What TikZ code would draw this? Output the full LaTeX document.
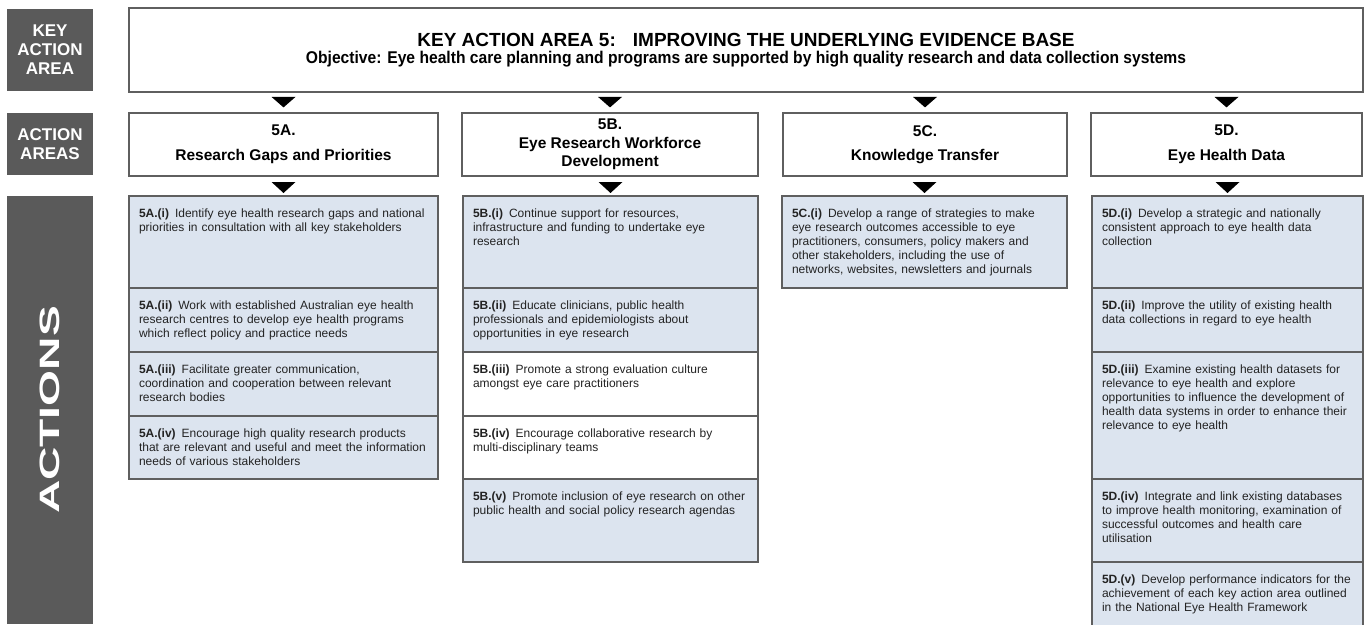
\documentclass[tikz,border=0pt]{standalone}
\usepackage{fontspec}
\setmainfont{Liberation Sans}
\newfontfamily\narrowsans[FakeStretch=0.92]{Liberation Sans}
\newfontfamily\widesans[FakeStretch=1.65]{Liberation Sans}
\usetikzlibrary{positioning}

\definecolor{labelgray}{RGB}{90,90,90}
\definecolor{actionblue}{RGB}{220,228,239}
\definecolor{boxline}{RGB}{95,95,95}
\definecolor{bodytext}{RGB}{35,35,35}

\tikzset{
	sidelabel/.style={fill=labelgray, text=white, minimum width=86pt, inner sep=0pt, align=center, font=\bfseries\fontsize{17}{19}\selectfont},
	areabox/.style={draw=boxline, line width=1.2pt, fill=white, minimum height=63pt, inner sep=0pt, align=center, font=\bfseries\fontsize{15.5}{18.5}\selectfont},
	actionbox/.style={draw=boxline, line width=1.2pt, fill=actionblue, outer sep=0pt, inner xsep=10pt, inner ysep=0pt, align=left, text=bodytext, text height=21pt, text depth=#1-21pt, font=\fontsize{12}{14}\selectfont},
	colA/.style={minimum width=309pt, text width=289pt},
	colB/.style={minimum width=295pt, text width=275pt},
	colC/.style={minimum width=285pt, text width=265pt},
	colD/.style={minimum width=271pt, text width=251pt},
	downtip/.style={fill=black}
}

\begin{document}
\begin{tikzpicture}[x=1pt,y=-1pt]
	\useasboundingbox (0,0) rectangle (1372,624);

	% labels on the left
	\node[sidelabel, minimum height=82pt] (lblkey) at (50,50) {KEY\\ACTION\\AREA};
	\node[sidelabel, minimum height=62pt] (lblarea) at (50,144) {ACTION\\AREAS};
	\node[sidelabel, rotate=90, minimum width=428pt, minimum height=86pt, font=\widesans\bfseries\fontsize{28}{28}\selectfont] (lblact) at (50,410) {ACTIONS};

	% key action area
	\node[draw=boxline, line width=1.2pt, minimum width=1234pt, minimum height=84pt, align=center, font=\bfseries\fontsize{19}{16.5}\selectfont] (title) at (746,50)
		{KEY ACTION AREA 5:\hspace{0.9em}IMPROVING THE UNDERLYING EVIDENCE BASE\\
		{\narrowsans\bfseries\fontsize{17}{16.5}\selectfont Objective: Eye health care planning and programs are supported by high quality research and data collection systems}};

	% action areas
	\node[areabox, minimum width=309pt] (hdA) at (283.5,144.5) {5A.\\[6pt]Research Gaps and Priorities};
	\node[areabox, minimum width=296pt] (hdB) at (610,144.5) {5B.\\Eye Research Workforce\\Development};
	\node[areabox, minimum width=284pt] (hdC) at (925,144.5) {5C.\\[6pt]Knowledge Transfer};
	\node[areabox, minimum width=271pt] (hdD) at (1226.5,144.5) {5D.\\[6pt]Eye Health Data};

	% actions 5A
	\node[actionbox=92pt, colA, anchor=north] (aA1) at (283.5,196) {\textbf{5A.(i)}\hspace{0.5em}Identify eye health research gaps and national\\priorities in consultation with all key stakeholders};
	\node[actionbox=64pt, colA, below=0pt of aA1] (aA2) {\textbf{5A.(ii)}\hspace{0.5em}Work with established Australian eye health\\research centres to develop eye health programs\\which reflect policy and practice needs};
	\node[actionbox=64pt, colA, below=0pt of aA2] (aA3) {\textbf{5A.(iii)}\hspace{0.5em}Facilitate greater communication,\\coordination and cooperation between relevant\\research bodies};
	\node[actionbox=63pt, colA, below=0pt of aA3] (aA4) {\textbf{5A.(iv)}\hspace{0.5em}Encourage high quality research products\\that are relevant and useful and meet the information\\needs of various stakeholders};

	% actions 5B
	\node[actionbox=92pt, colB, anchor=north] (aB1) at (610.5,196) {\textbf{5B.(i)}\hspace{0.5em}Continue support for resources,\\infrastructure and funding to undertake eye\\research};
	\node[actionbox=64pt, colB, below=0pt of aB1] (aB2) {\textbf{5B.(ii)}\hspace{0.5em}Educate clinicians, public health\\professionals and epidemiologists about\\opportunities in eye research};
	\node[actionbox=64pt, colB, fill=white, below=0pt of aB2] (aB3) {\textbf{5B.(iii)}\hspace{0.5em}Promote a strong evaluation culture\\amongst eye care practitioners};
	\node[actionbox=63pt, colB, fill=white, below=0pt of aB3] (aB4) {\textbf{5B.(iv)}\hspace{0.5em}Encourage collaborative research by\\multi-disciplinary teams};
	\node[actionbox=83pt, colB, below=0pt of aB4] (aB5) {\textbf{5B.(v)}\hspace{0.5em}Promote inclusion of eye research on other\\public health and social policy research agendas};

	% actions 5C
	\node[actionbox=92pt, colC, anchor=north] (aC1) at (924.5,196) {\textbf{5C.(i)}\hspace{0.5em}Develop a range of strategies to make\\eye research outcomes accessible to eye\\practitioners, consumers, policy makers and\\other stakeholders, including the use of\\networks, websites, newsletters and journals};

	% actions 5D
	\node[actionbox=92pt, colD, anchor=north] (aD1) at (1227.5,196) {\textbf{5D.(i)}\hspace{0.5em}Develop a strategic and nationally\\consistent approach to eye health data\\collection};
	\node[actionbox=64pt, colD, below=0pt of aD1] (aD2) {\textbf{5D.(ii)}\hspace{0.5em}Improve the utility of existing health\\data collections in regard to eye health};
	\node[actionbox=127pt, colD, below=0pt of aD2] (aD3) {\textbf{5D.(iii)}\hspace{0.5em}Examine existing health datasets for\\relevance to eye health and explore\\opportunities to influence the development of\\health data systems in order to enhance their\\relevance to eye health};
	\node[actionbox=83pt, colD, below=0pt of aD3] (aD4) {\textbf{5D.(iv)}\hspace{0.5em}Integrate and link existing databases\\to improve health monitoring, examination of\\successful outcomes and health care\\utilisation};
	\node[actionbox=66pt, colD, below=0pt of aD4] (aD5) {\textbf{5D.(v)}\hspace{0.5em}Develop performance indicators for the\\achievement of each key action area outlined\\in the National Eye Health Framework};

	% arrow tips
	\foreach \n in {hdA,hdB,hdC,hdD}
		\fill[downtip] (\n.north) ++(-12,-15.5) -- ++(24,0) -- ++(-12,10.5) -- cycle;
	\foreach \n in {aA1,aB1,aC1,aD1}
		\fill[downtip] (\n.north) ++(-12,-14) -- ++(24,0) -- ++(-12,11) -- cycle;
\end{tikzpicture}
\end{document}
